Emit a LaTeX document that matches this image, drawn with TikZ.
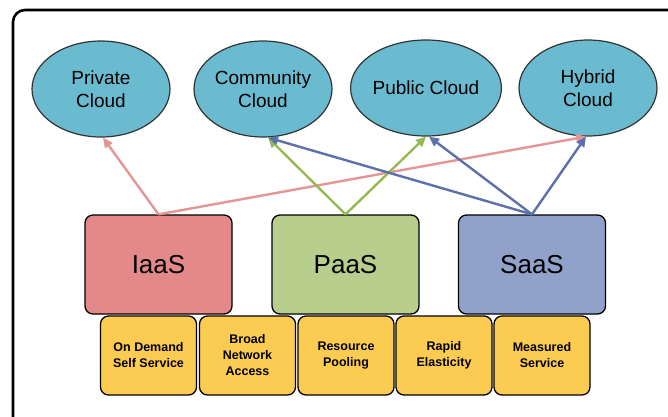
\documentclass[tikz,border=0pt]{standalone}
\usepackage{fontspec}
\setmainfont{Liberation Sans}
\usetikzlibrary{shapes.geometric,arrows.meta}
\definecolor{cloudfill}{RGB}{107,187,208}
\definecolor{iaasfill}{RGB}{227,137,137}
\definecolor{paasfill}{RGB}{183,206,140}
\definecolor{saasfill}{RGB}{145,162,202}
\definecolor{charfill}{RGB}{252,204,82}
\definecolor{pinkline}{RGB}{228,150,150}
\definecolor{greenline}{RGB}{150,185,85}
\definecolor{blueline}{RGB}{92,112,172}
\tikzset{
  cloud/.style={ellipse, draw=black!80, line width=1.2pt, fill=cloudfill,
    minimum width=138pt, minimum height=96pt, inner sep=0pt, align=center,
    font=\fontsize{19}{23}\selectfont},
  svc/.style={rectangle, rounded corners=8pt, draw=black, line width=1.3pt,
    minimum width=147pt, minimum height=99pt, inner sep=0pt,
    font=\fontsize{26}{30}\selectfont},
  charbox/.style={rectangle, rounded corners=8pt, draw=black, line width=1.3pt,
    fill=charfill, minimum width=96pt, minimum height=79pt, inner sep=0pt,
    align=center, font=\bfseries\fontsize{12.5}{16}\selectfont},
  conn/.style={line width=2.4pt, -{Triangle[length=10pt,width=9pt]}},
}
\begin{document}
\begin{tikzpicture}[x=1pt,y=-1pt]
\useasboundingbox (0,0) rectangle (668,416);
\begin{scope}
\clip (0,0) rectangle (668,416);
\draw[line width=2.6pt, rounded corners=12pt] (13,10) rectangle (690,440);
\end{scope}
% clouds
\node[cloud] (priv) at (101,89) {Private\\Cloud};
\node[cloud] (comm) at (263,89) {Community\\Cloud};
\node[cloud] (pub) at (426,88) {Public Cloud};
\node[cloud] (hyb) at (588,88) {Hybrid\\Cloud};
% service boxes
\node[svc, fill=iaasfill] (iaas) at (158.5,264.5) {IaaS};
\node[svc, fill=paasfill] (paas) at (345.5,264.5) {PaaS};
\node[svc, fill=saasfill] (saas) at (532,264.5) {SaaS};
% characteristics
\node[charbox] (c1) at (148.5,355.5) {On Demand\\Self Service};
\node[charbox] (c2) at (247.5,355.5) {Broad\\Network\\Access};
\node[charbox] (c3) at (346,355.5) {Resource\\Pooling};
\node[charbox] (c4) at (444,355.5) {Rapid\\Elasticity};
\node[charbox] (c5) at (542,355.5) {Measured\\Service};
% connectors
\draw[conn, pinkline] (iaas.north) -- ([xshift=2pt]priv.south);
\draw[conn, pinkline] (iaas.north) -- ([xshift=-2pt]hyb.south);
\draw[conn, greenline] (paas.north) -- ([xshift=5pt]comm.south);
\draw[conn, greenline] (paas.north) -- (pub.south);
\draw[conn, blueline] (saas.north) -- ([xshift=5pt]comm.south);
\draw[conn, blueline] (saas.north) -- ([xshift=3pt]pub.south);
\draw[conn, blueline] (saas.north) -- ([xshift=-2pt]hyb.south);
\end{tikzpicture}
\end{document}
